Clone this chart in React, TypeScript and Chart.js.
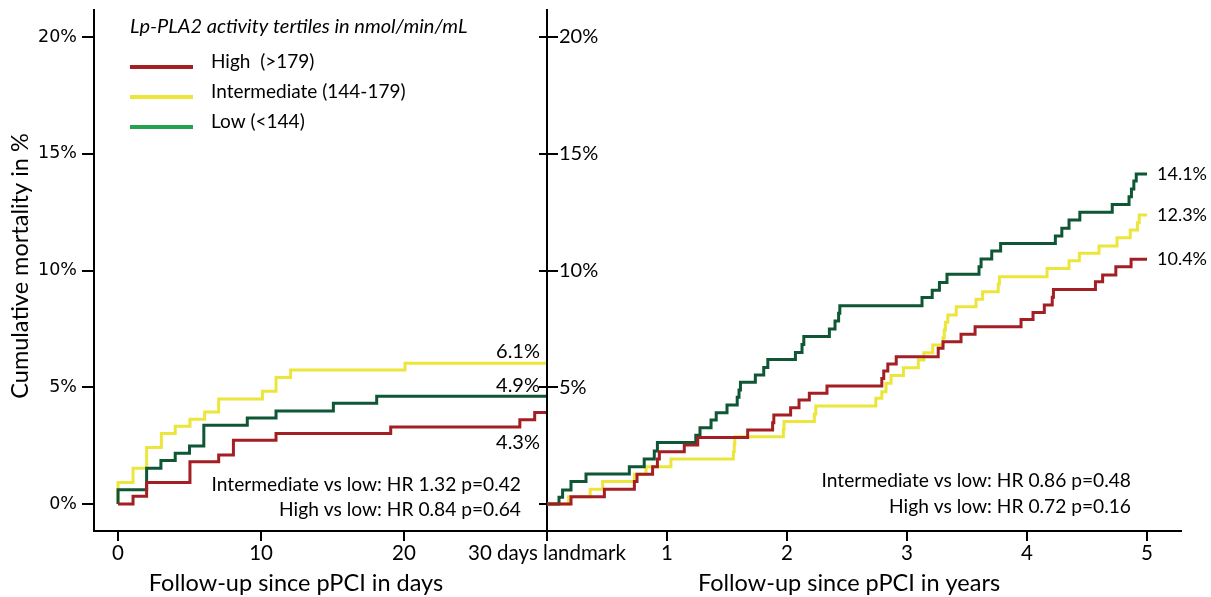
import React, { useEffect, useRef } from 'react';
import { Chart, registerables } from 'chart.js';

Chart.register(...registerables);

// ---------- data ----------
const Y_TICKS = [0, 5, 10, 15, 20];
const Y_TICK_LABELS = ['0%', '5%', '10%', '15%', '20%'];
const Y_TICKS_CENTER = [5, 10, 15, 20];
const DAY_TICKS = [0, 10, 20, 30];
const DAY_TICK_LABELS = ['0', '10', '20', '30 days landmark'];
const YEAR_TICKS = [1, 2, 3, 4, 5];
const YEAR_TICK_LABELS = ['1', '2', '3', '4', '5'];

const SERIES_NAMES = ['High  (>179)', 'Intermediate (144-179)', 'Low (<144)'];
const LEGEND_TITLE = 'Lp-PLA2 activity tertiles in nmol/min/mL';

// first 30 days (days)
const DAY_HIGH_T = [0, 1.05, 2, 5.03, 7.04, 8.07, 11.05, 19.07, 28.1, 29.14, 30];
const DAY_HIGH_V = [0, 0.33, 0.92, 1.81, 2.1, 2.73, 3.02, 3.3, 3.61, 3.92, 3.92];
const DAY_INT_T = [0, 0, 1.05, 2, 3.03, 4, 5.03, 6.06, 7.04, 10.1, 11.05, 12.07, 20.07, 30];
const DAY_INT_V = [0, 0.92, 1.53, 2.42, 3.02, 3.33, 3.63, 3.94, 4.5, 4.83, 5.42, 5.74, 6.03, 6.03];
const DAY_LOW_T = [0, 0, 2, 3, 4, 5, 6, 9.04, 11.05, 15.06, 18.09, 30];
const DAY_LOW_V = [0, 0.61, 1.53, 1.86, 2.17, 2.48, 3.37, 3.68, 3.98, 4.32, 4.62, 4.62];

// after landmark (years)
const YR_HIGH_T = [0, 0.2, 0.478, 0.728, 0.75, 0.88, 0.92, 0.936, 1.144, 1.256, 1.672, 1.88, 1.89, 2.03, 2.1, 2.186, 2.333, 2.79, 2.806, 2.84, 2.91, 3.26, 3.3, 3.45, 3.567, 3.95, 4.05, 4.144, 4.21, 4.22, 4.57, 4.63, 4.74, 4.867, 5.0];
const YR_HIGH_V = [0, 0.31, 0.63, 0.96, 1.27, 1.6, 1.93, 2.24, 2.53, 2.85, 3.17, 3.48, 3.81, 4.12, 4.45, 4.74, 5.05, 5.38, 5.7, 6.0, 6.31, 6.67, 6.95, 7.27, 7.59, 7.9, 8.2, 8.52, 8.85, 9.19, 9.52, 9.81, 10.16, 10.48, 10.48];
const YR_INT_T = [0, 0.18, 0.36, 0.464, 0.728, 0.825, 1.033, 1.553, 1.56, 1.565, 1.97, 1.975, 2.228, 2.24, 2.74, 2.79, 2.825, 2.867, 2.97, 3.094, 3.14, 3.214, 3.3, 3.31, 3.32, 3.34, 3.41, 3.575, 3.63, 3.76, 3.77, 4.167, 4.35, 4.436, 4.6, 4.75, 4.86, 4.92, 4.935, 5.0];
const YR_INT_V = [0, 0.31, 0.63, 0.96, 1.27, 1.6, 1.93, 2.24, 2.56, 2.88, 3.2, 3.53, 3.85, 4.2, 4.53, 4.81, 5.17, 5.5, 5.84, 6.17, 6.48, 6.81, 7.12, 7.45, 7.78, 8.09, 8.45, 8.77, 9.09, 9.42, 9.73, 10.09, 10.42, 10.74, 11.05, 11.4, 11.73, 12.05, 12.38, 12.38];
const YR_LOW_T = [0, 0.1, 0.13, 0.2, 0.325, 0.686, 0.81, 0.894, 0.92, 1.24, 1.275, 1.367, 1.41, 1.5, 1.585, 1.6, 1.612, 1.736, 1.806, 1.84, 2.07, 2.125, 2.14, 2.353, 2.4, 2.43, 2.44, 3.125, 3.21, 3.27, 3.333, 3.6, 3.617, 3.706, 3.78, 4.236, 4.29, 4.35, 4.44, 4.71, 4.85, 4.87, 4.89, 4.91, 5.0];
const YR_LOW_V = [0, 0.29, 0.6, 0.96, 1.28, 1.6, 1.93, 2.27, 2.63, 2.95, 3.27, 3.6, 3.91, 4.24, 4.57, 4.88, 5.21, 5.52, 5.85, 6.19, 6.49, 6.83, 7.17, 7.49, 7.84, 8.17, 8.49, 8.84, 9.16, 9.49, 9.84, 10.16, 10.49, 10.84, 11.16, 11.48, 11.81, 12.16, 12.49, 12.83, 13.16, 13.49, 13.83, 14.13, 14.13];

const DAY_END_LABELS = ['6.1%', '4.9%', '4.3%'];
const YEAR_END_LABELS = ['10.4%', '12.3%', '14.1%'];
const DAY_STATS = ['Intermediate vs low: HR 1.32 p=0.42', 'High vs low: HR 0.84 p=0.64'];
const YEAR_STATS = ['Intermediate vs low: HR 0.86 p=0.48', 'High vs low: HR 0.72 p=0.16'];

// ---------- styles ----------
const RED = '#a31f24';
const YELLOW = '#ece63c';
const GREEN = '#0e5634';
const LEGEND_COLORS = ['#a31f24', '#ece63c', '#26a150'];
const FONT = 'Lato';
const TICK_FONT_LEFT = 'DejaVu Sans';

const Y_MIN = -1.156;
const Y_MAX = 21.157;

const pts = (t: number[], v: number[]) => t.map((x, i) => ({ x, y: v[i] }));

const lineDs = (label: string, data: any[], color: string) => ({
  label,
  data,
  borderColor: color,
  backgroundColor: color,
  borderWidth: 3,
  stepped: true as const,
  pointRadius: 0,
  fill: false,
});

const axisGrid = (tickLength: number) => ({
  display: true,
  drawOnChartArea: false,
  drawTicks: true,
  tickLength,
  color: '#000',
  lineWidth: 2,
});

export default function App() {
  const leftRef = useRef<HTMLCanvasElement>(null);
  const rightRef = useRef<HTMLCanvasElement>(null);

  useEffect(() => {
    document.body.style.margin = '0';
    const leftTexts = {
      id: 'leftTexts',
      afterDraw(chart: any) {
        const ctx = chart.ctx as CanvasRenderingContext2D;
        ctx.save();
        ctx.fillStyle = '#000';
        ctx.textBaseline = 'middle';
        // y-axis title
        ctx.save();
        ctx.translate(20, 266);
        ctx.rotate(-Math.PI / 2);
        ctx.textAlign = 'center';
        ctx.font = `23.5px ${FONT}`;
        ctx.fillText('Cumulative mortality in %', 0, 0);
        ctx.restore();
        // x-axis title
        ctx.textAlign = 'center';
        ctx.font = `23.5px ${FONT}`;
        ctx.fillText('Follow-up since pPCI in days', 296, 583);
        // legend
        ctx.textAlign = 'left';
        ctx.font = `italic 20px ${FONT}`;
        ctx.fillText(LEGEND_TITLE, 130, 27);
        const rowsY = [62, 92, 122];
        SERIES_NAMES.forEach((name, i) => {
          ctx.strokeStyle = LEGEND_COLORS[i];
          ctx.lineWidth = 4;
          ctx.beginPath();
          ctx.moveTo(130, rowsY[i] + 5);
          ctx.lineTo(193, rowsY[i] + 5);
          ctx.stroke();
          ctx.font = `19px ${FONT}`;
          ctx.fillText(name, 211, rowsY[i]);
        });
        // end labels
        ctx.textAlign = 'right';
        ctx.font = `20px ${FONT}`;
        const endY = [352, 386, 443];
        DAY_END_LABELS.forEach((t, i) => ctx.fillText(t, 540, endY[i]));
        // stats
        ctx.font = `19.2px ${FONT}`;
        ctx.fillText(DAY_STATS[0], 521, 485);
        ctx.fillText(DAY_STATS[1], 521, 510);
        ctx.restore();
      },
    };

    const rightTexts = {
      id: 'rightTexts',
      afterDraw(chart: any) {
        const ctx = chart.ctx as CanvasRenderingContext2D;
        const xs = chart.scales.x;
        const ys = chart.scales.y;
        ctx.save();
        ctx.fillStyle = '#000';
        ctx.textBaseline = 'middle';
        ctx.textAlign = 'center';
        ctx.font = `23.5px ${FONT}`;
        ctx.fillText('Follow-up since pPCI in years', 309, 583);
        ctx.textAlign = 'left';
        ctx.font = `18px ${FONT}`;
        const ends = [YR_HIGH_V, YR_INT_V, YR_LOW_V].map((a) => a[a.length - 1]);
        YEAR_END_LABELS.forEach((t, i) => {
          ctx.fillText(t, xs.getPixelForValue(5) + 10, ys.getPixelForValue(ends[i]));
        });
        ctx.textAlign = 'right';
        ctx.font = `19.2px ${FONT}`;
        ctx.fillText(YEAR_STATS[0], 591, 481);
        ctx.fillText(YEAR_STATS[1], 591, 507);
        ctx.restore();
      },
    };

    const left = new Chart(leftRef.current!, {
      type: 'line',
      data: {
        datasets: [
          lineDs(SERIES_NAMES[0], pts(DAY_HIGH_T, DAY_HIGH_V), RED),
          lineDs(SERIES_NAMES[2], pts(DAY_LOW_T, DAY_LOW_V), GREEN),
          lineDs(SERIES_NAMES[1], pts(DAY_INT_T, DAY_INT_V), YELLOW),
        ] as any,
      },
      options: {
        animation: false,
        responsive: false,
        maintainAspectRatio: false,
        devicePixelRatio: 1,
        layout: { padding: { left: 0, right: 113, top: 10, bottom: 0 } },
        plugins: { legend: { display: false }, tooltip: { enabled: false } },
        scales: {
          x: {
            type: 'linear',
            min: -1.68,
            max: 30,
            afterBuildTicks: (s: any) => {
              s.ticks = DAY_TICKS.map((value) => ({ value }));
            },
            afterFit: (s: any) => {
              s.height = 66;
              s.paddingLeft = 0;
              s.paddingRight = 0;
            },
            grid: axisGrid(10),
            border: { display: true, color: '#000', width: 2 },
            ticks: {
              autoSkip: false,
              maxRotation: 0,
              padding: 0,
              color: '#000',
              font: { family: FONT, size: 20.5 },
              callback: (v: any) => DAY_TICK_LABELS[DAY_TICKS.indexOf(Number(v))],
            },
          },
          y: {
            type: 'linear',
            position: 'left',
            min: Y_MIN,
            max: Y_MAX,
            afterBuildTicks: (s: any) => {
              s.ticks = Y_TICKS.map((value) => ({ value }));
            },
            afterFit: (s: any) => {
              s.width = 94;
              s.paddingTop = 0;
              s.paddingBottom = 0;
            },
            grid: axisGrid(12),
            border: { display: true, color: '#000', width: 2 },
            ticks: {
              padding: 5,
              color: '#000',
              font: { family: TICK_FONT_LEFT, size: 17.5 },
              callback: (v: any) => Y_TICK_LABELS[Y_TICKS.indexOf(Number(v))],
            },
          },
          y2: {
            type: 'linear',
            position: 'right',
            min: Y_MIN,
            max: Y_MAX,
            afterBuildTicks: (s: any) => {
              s.ticks = Y_TICKS.map((value) => ({ value }));
            },
            afterFit: (s: any) => {
              s.width = 0;
              s.paddingTop = 0;
              s.paddingBottom = 0;
            },
            grid: axisGrid(-8),
            border: { display: false },
            ticks: { display: false },
          },
        },
      } as any,
      plugins: [leftTexts],
    });

    const right = new Chart(rightRef.current!, {
      type: 'line',
      data: {
        datasets: [
          lineDs(SERIES_NAMES[0], pts(YR_HIGH_T, YR_HIGH_V), RED),
          lineDs(SERIES_NAMES[2], pts(YR_LOW_T, YR_LOW_V), GREEN),
          lineDs(SERIES_NAMES[1], pts(YR_INT_T, YR_INT_V), YELLOW),
        ] as any,
      },
      options: {
        animation: false,
        responsive: false,
        maintainAspectRatio: false,
        devicePixelRatio: 1,
        layout: { padding: { left: 0, right: 30, top: 10, bottom: 0 } },
        plugins: { legend: { display: false }, tooltip: { enabled: false } },
        scales: {
          x: {
            type: 'linear',
            min: 0,
            max: 5.283,
            afterBuildTicks: (s: any) => {
              s.ticks = YEAR_TICKS.map((value) => ({ value }));
            },
            afterFit: (s: any) => {
              s.height = 66;
              s.paddingLeft = 0;
              s.paddingRight = 0;
            },
            grid: axisGrid(10),
            border: { display: true, color: '#000', width: 2 },
            ticks: {
              autoSkip: false,
              maxRotation: 0,
              padding: 0,
              color: '#000',
              font: { family: FONT, size: 20.5 },
              callback: (v: any) => YEAR_TICK_LABELS[YEAR_TICKS.indexOf(Number(v))],
            },
          },
          y: {
            type: 'linear',
            position: 'left',
            min: Y_MIN,
            max: Y_MAX,
            afterBuildTicks: (s: any) => {
              s.ticks = Y_TICKS_CENTER.map((value) => ({ value }));
            },
            afterFit: (s: any) => {
              s.width = 7;
              s.paddingTop = 0;
              s.paddingBottom = 0;
            },
            grid: axisGrid(-11),
            border: { display: true, color: '#000', width: 2 },
            ticks: {
              mirror: true,
              padding: 12,
              color: '#000',
              font: { family: FONT, size: 20 },
              callback: (v: any) => Y_TICK_LABELS[Y_TICKS.indexOf(Number(v))],
            },
          },
        },
      } as any,
      plugins: [rightTexts],
    });

    return () => {
      left.destroy();
      right.destroy();
    };
  }, []);

  return (
    <div style={{ position: 'fixed', left: 0, top: 0, width: 1211, height: 597, background: '#fff' }}>
      <canvas
        ref={leftRef}
        width={660}
        height={597}
        style={{ position: 'absolute', left: 0, top: 0, width: 660, height: 597 }}
      />
      <canvas
        ref={rightRef}
        width={671}
        height={597}
        style={{ position: 'absolute', left: 540, top: 0, width: 671, height: 597 }}
      />
    </div>
  );
}
